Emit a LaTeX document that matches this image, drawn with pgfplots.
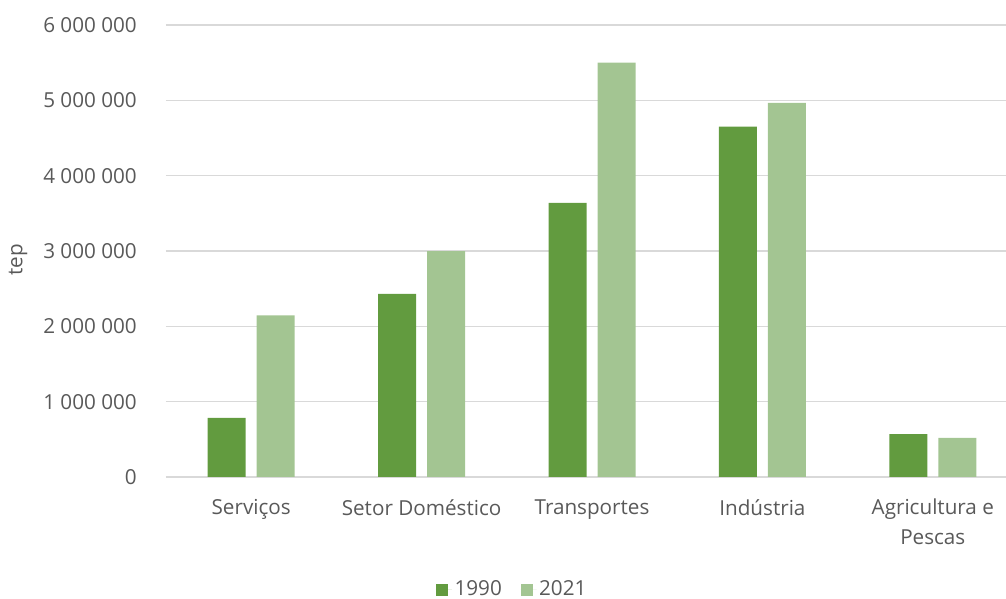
\documentclass[border=0pt]{standalone}
\usepackage{pgfplots}
\pgfplotsset{compat=1.18}
\usepackage{fontspec}
\setmainfont{Open Sans}
\definecolor{dk}{HTML}{629B3F}
\definecolor{lt}{HTML}{A3C592}
\definecolor{tx}{HTML}{595959}
\definecolor{gr}{HTML}{D9D9D9}
\begin{document}
\fontsize{15.5}{19.5}\selectfont
\begin{tikzpicture}
\path[use as bounding box] (-124.5pt,-91.5pt) rectangle (630pt,357.75pt);
\begin{axis}[
  at={(0,0)}, anchor=south west,
  scale only axis, width=639pt, height=339pt,
  ymin=0, ymax=6000000, ytick={0,1000000,2000000,3000000,4000000,5000000,6000000},
  scaled y ticks=false,
  /pgf/number format/.cd, 1000 sep={\ }, assume math mode=true, fixed, /pgfplots/.cd,
  xmin=-0.5, xmax=4.5, xtick={0,1,2,3,4},
  xticklabels={Serviços, Setor Doméstico, Transportes, Indústria, {Agricultura e\\Pescas}},
  ybar=8.25pt, bar width=28.5pt,
  axis line style={draw=none}, major tick length=0pt,
  ymajorgrids, grid style={gr, line width=1.1pt},
  every tick label/.append style={text=tx, font=\fontsize{15.5}{22.5}\selectfont},
  yticklabel style={anchor=east, inner sep=0pt, xshift=-21.75pt},
  xticklabel style={anchor=north, inner sep=0pt, yshift=-16.5pt, align=center},
  ylabel={tep},
  ylabel style={at={(axis description cs:-0.1737,0.48)}, anchor=center, text=tx, font=\fontsize{15.5}{19.5}\selectfont},
  legend style={at={(axis description cs:0.4067,-0.25)}, anchor=center, draw=none, fill=none,
    legend columns=2, text=tx, font=\fontsize{15.5}{19.5}\selectfont,
    /tikz/every even column/.append style={column sep=12pt}},
  legend image code/.code={\fill[#1] (0pt,-4.5pt) rectangle (9pt,4.5pt); \path (0pt,0pt) -- (12pt,0pt);},
]
\addplot[fill=dk, draw=none] coordinates {(0,785000) (1,2430000) (2,3640000) (3,4650000) (4,570000)};
\addplot[fill=lt, draw=none] coordinates {(0,2145000) (1,3000000) (2,5500000) (3,4965000) (4,520000)};
\legend{1990,2021}
\end{axis}
\end{tikzpicture}
\end{document}
